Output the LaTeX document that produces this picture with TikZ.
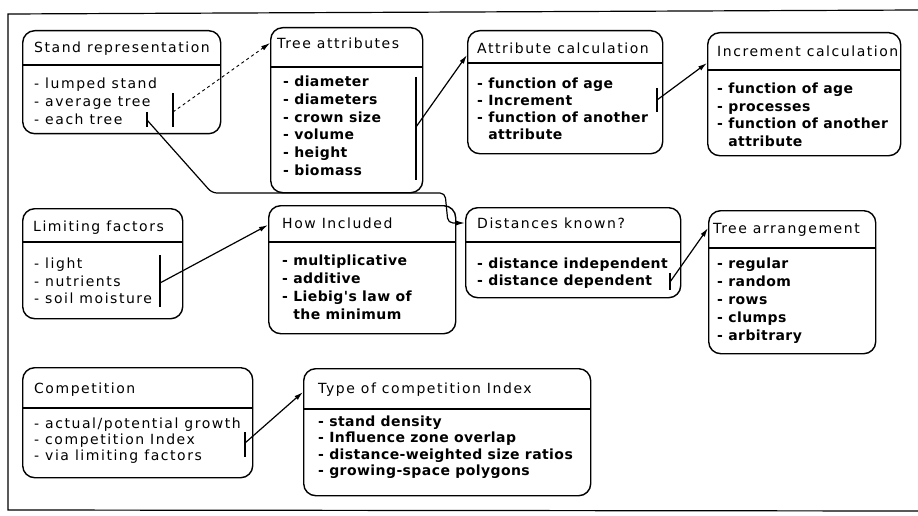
\documentclass[tikz,border=0pt]{standalone}
\usepackage{fontspec}
\setmainfont{DejaVu Sans}[LetterSpace=11]
\newfontfamily\boldish{DejaVu Sans Bold}[LetterSpace=3]
\usetikzlibrary{arrows.meta}
\begin{document}
\begin{tikzpicture}[x=1pt,y=-1pt,
  cbox/.style={draw, line width=1.4pt, rounded corners=12pt, inner sep=0pt, anchor=north west},
  sepline/.style={line width=1.2pt},
  ttl/.style={anchor=west, inner sep=0pt, font=\fontsize{14pt}{17pt}\selectfont, text height=10pt, text depth=3pt},
  itm/.style={anchor=west, inner sep=0pt, font=\fontsize{14pt}{17pt}\selectfont, text height=10pt, text depth=3pt},
  bitm/.style={anchor=west, inner sep=0pt, font=\fontsize{14pt}{17pt}\boldish, text height=10pt, text depth=3pt},
  barline/.style={line width=1.3pt},
  conn/.style={line width=1.2pt, -{Latex[length=9pt,width=5pt]}},
  frame/.style={line width=1.2pt}]
\useasboundingbox (0,0) rectangle (918,516);
% frame
\coordinate (f1) at (8,14);
\coordinate (f2) at (918,10);
\coordinate (f3) at (8,510);
\coordinate (f4) at (918,511);
\draw[frame] (f2) -- (f1) -- (f3) -- (f4);

% boxes
\node[cbox, minimum width=198pt, minimum height=103pt] (stand) at (22,30) {};
\node[cbox, minimum width=152pt, minimum height=165pt] (tree) at (270,27) {};
\node[cbox, minimum width=195pt, minimum height=123pt] (attr) at (467,30) {};
\node[cbox, minimum width=193pt, minimum height=123pt] (inc) at (707,32) {};
\node[cbox, minimum width=160pt, minimum height=110pt] (limit) at (22,208) {};
\node[cbox, minimum width=187pt, minimum height=128pt] (how) at (268,205) {};
\node[cbox, minimum width=215pt, minimum height=90pt] (dist) at (465,207) {};
\node[cbox, minimum width=167pt, minimum height=143pt] (arr) at (708,210) {};
\node[cbox, minimum width=230pt, minimum height=110pt] (comp) at (22,367) {};
\node[cbox, minimum width=287pt, minimum height=127pt] (type) at (303,368) {};

% separators
\draw[sepline] (stand.west |- 0,65) -- (stand.east |- 0,65);
\draw[sepline] (tree.west |- 0,67) -- (tree.east |- 0,67);
\draw[sepline] (attr.west |- 0,63) -- (attr.east |- 0,63);
\draw[sepline] (inc.west |- 0,70) -- (inc.east |- 0,70);
\draw[sepline] (limit.west |- 0,242) -- (limit.east |- 0,242);
\draw[sepline] (how.west |- 0,242) -- (how.east |- 0,242);
\draw[sepline] (dist.west |- 0,242) -- (dist.east |- 0,242);
\draw[sepline] (arr.west |- 0,248) -- (arr.east |- 0,248);
\draw[sepline] (comp.west |- 0,408) -- (comp.east |- 0,408);
\draw[sepline] (type.west |- 0,409) -- (type.east |- 0,409);

% titles
\node[ttl] (stand-t) at (34,49) {Stand representation};
\node[ttl] (tree-t) at (277,45) {Tree attributes};
\node[ttl] (attr-t) at (477,50) {Attribute calculation};
\node[ttl] (inc-t) at (717,53) {Increment calculation};
\node[ttl] (limit-t) at (33,228) {Limiting factors};
\node[ttl] (how-t) at (282,225) {How Included};
\node[ttl] (dist-t) at (477,225) {Distances known?};
\node[ttl] (arr-t) at (713,230) {Tree arrangement};
\node[ttl] (comp-t) at (34,390) {Competition};
\node[ttl] (type-t) at (318,390) {Type of competition Index};

% items
\foreach [count=\i] \t in {- lumped stand,- average tree,- each tree}
  \node[itm] (stand-\i) at (34,{85+18*(\i-1)}) {\t};
\foreach [count=\i] \t in {- diameter,- diameters,- crown size,- volume,- height,- biomass}
  \node[bitm] (tree-\i) at (283,{83+17.8*(\i-1)}) {\t};
\foreach [count=\i] \t in {- function of age,- Increment,- function of another,\phantom{- }attribute}
  \node[bitm] (attr-\i) at (477,{85+17*(\i-1)}) {\t};
\foreach [count=\i] \t in {- function of age,- processes,- function of another,\phantom{- }attribute}
  \node[bitm] (inc-\i) at (717,{90+17.7*(\i-1)}) {\t};
\foreach [count=\i] \t in {- light,- nutrients,- soil moisture}
  \node[itm] (limit-\i) at (34,{265+17.5*(\i-1)}) {\t};
\foreach [count=\i] \t in {- multiplicative,- additive,- Liebig's law of,\phantom{- }the minimum}
  \node[bitm] (how-\i) at (282,{262+18*(\i-1)}) {\t};
\foreach [count=\i] \t in {- distance independent,- distance dependent}
  \node[bitm] (dist-\i) at (477,{265+17*(\i-1)}) {\t};
\foreach [count=\i] \t in {- regular,- random,- rows,- clumps,- arbitrary}
  \node[bitm] (arr-\i) at (717,{265+18*(\i-1)}) {\t};
\foreach [count=\i] \t in {- actual/potential growth,- competition Index,- via limiting factors}
  \node[itm] (comp-\i) at (34,{425+16*(\i-1)}) {\t};
\foreach [count=\i] \t in {- stand density,- Influence zone overlap,- distance-weighted size ratios,- growing-space polygons}
  \node[bitm] (type-\i) at (318,{423+16.3*(\i-1)}) {\t};

% bars
\coordinate (sa1) at (173,93); \coordinate (sa2) at (173,127); \coordinate (sam) at (173,112);
\coordinate (sb1) at (147,112); \coordinate (sb2) at (147,127); \coordinate (sbm) at (147,120);
\coordinate (tb1) at (416,77); \coordinate (tb2) at (416,180); \coordinate (tbm) at (416,127);
\coordinate (ab1) at (657,88); \coordinate (ab2) at (657,112); \coordinate (abm) at (657,100);
\coordinate (lb1) at (160,255); \coordinate (lb2) at (160,307); \coordinate (lbm) at (160,283);
\coordinate (db1) at (670,273); \coordinate (db2) at (670,290); \coordinate (dbm) at (670,282);
\coordinate (cb1) at (245,432); \coordinate (cb2) at (245,457); \coordinate (cbm) at (245,443);
\foreach \b in {sa,sb,tb,ab,lb,db,cb}
  \draw[barline] (\b1) -- (\b2);

% connectors
\draw[conn, dashed, line width=0.9pt] (sam) -- (tree.west |- 0,43);
\draw[conn] (tbm) -- (attr.west |- 0,55);
\draw[conn] (abm) -- (inc.west |- 0,63);
\draw[conn] (lbm) -- (how.west |- 0,225);
\draw[conn] (dbm) -- (arr.west |- 0,228);
\draw[conn] (cbm) -- (type.west |- 0,392);
\coordinate (k1) at (212,193);
\coordinate (k2) at (445,193);
\coordinate (k3) at (448,223);
\draw[conn, rounded corners=5pt] (sbm) -- (k1) -- (k2) -- (k3) -- (dist.west |- k3);
\end{tikzpicture}
\end{document}
